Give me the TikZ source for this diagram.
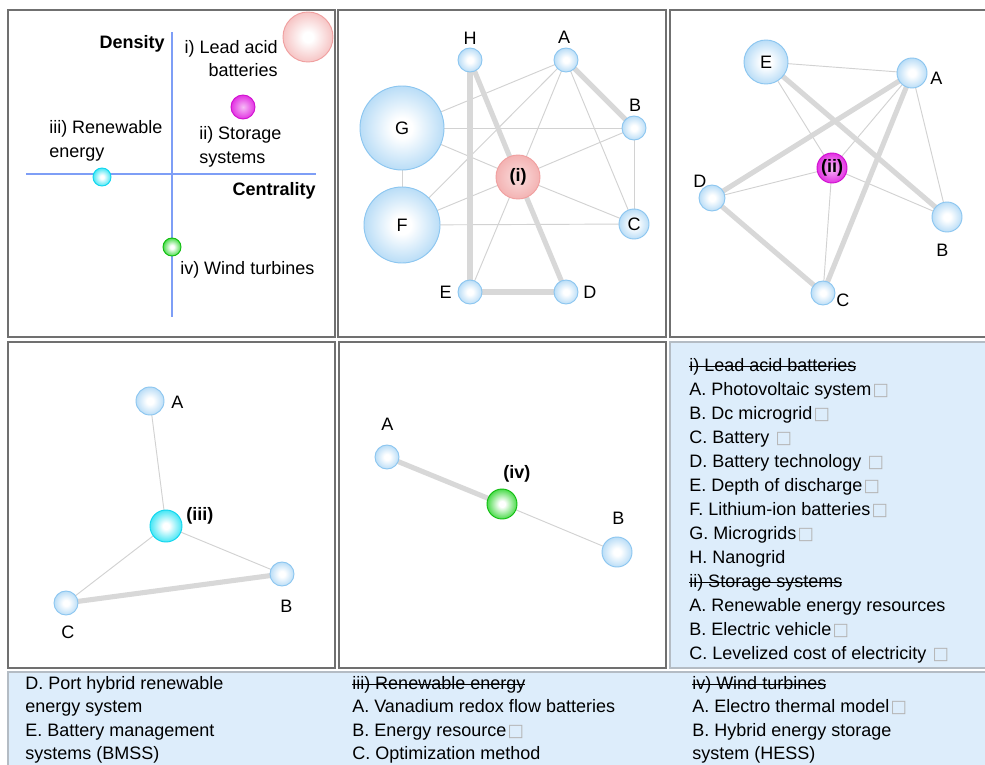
\documentclass[tikz,border=0pt]{standalone}
\usepackage{fontspec}
\setmainfont{Liberation Sans}
\newfontfamily\symfnt{DejaVu Sans}
\definecolor{nblue}{HTML}{ABD6F5}
\definecolor{nbluebd}{HTML}{8CC6F0}
\definecolor{npink}{HTML}{F2AAAA}
\definecolor{npinkbd}{HTML}{F0A0A0}
\definecolor{nmag}{HTML}{E020E0}
\definecolor{nmagbd}{HTML}{D010D0}
\definecolor{ncyan}{HTML}{18E0F2}
\definecolor{ncyanbd}{HTML}{10D6EE}
\definecolor{ngreen}{HTML}{1ED21E}
\definecolor{ngreenbd}{HTML}{10BE10}
\definecolor{edgec}{HTML}{D8D8D8}
\definecolor{thinc}{HTML}{D2D2D2}
\definecolor{axisc}{HTML}{7E9EF6}
\definecolor{framec}{HTML}{707070}
\definecolor{legfill}{HTML}{DDEDFB}
\definecolor{legframe}{HTML}{B4BCC4}
\definecolor{boxc}{HTML}{B4B4B4}
\pgfdeclareradialshading{shblue}{\pgfpoint{0bp}{0bp}}{color(0bp)=(white); color(6bp)=(white); color(29bp)=(nblue); color(50bp)=(nblue)}
\pgfdeclareradialshading{shpink}{\pgfpoint{0bp}{0bp}}{color(0bp)=(white); color(5bp)=(white); color(34bp)=(npink); color(50bp)=(npink)}
\pgfdeclareradialshading{shpinkb}{\pgfpoint{0bp}{0bp}}{color(0bp)=(npink!40!white); color(30bp)=(npink); color(50bp)=(npink)}
\pgfdeclareradialshading{shmag}{\pgfpoint{0bp}{0bp}}{color(0bp)=(nmag!30!white); color(28bp)=(nmag); color(50bp)=(nmag)}
\pgfdeclareradialshading{shcyan}{\pgfpoint{0bp}{0bp}}{color(0bp)=(white); color(5bp)=(white); color(30bp)=(ncyan); color(50bp)=(ncyan)}
\pgfdeclareradialshading{shgreen}{\pgfpoint{0bp}{0bp}}{color(0bp)=(white); color(5bp)=(white); color(30bp)=(ngreen); color(50bp)=(ngreen)}
\pgfdeclarelayer{bg}
\pgfdeclarelayer{edgelayer}
\pgfsetlayers{bg,edgelayer,main}
\newcommand\fs{\fontsize{13.5pt}{16pt}\selectfont}
\newcommand\bx{\kern1pt{\symfnt\fontsize{13pt}{13pt}\selectfont\color{boxc}□}}
\newsavebox\strkbox
\newcommand\strk[1]{\sbox\strkbox{#1}\rlap{\rule[0.22em]{\wd\strkbox}{0.6pt}}\usebox\strkbox}
\begin{document}
\begin{tikzpicture}[x=0.75pt,y=-0.75pt,
  every node/.append style={font=\fs, text=black},
  frame/.style={draw=framec, line width=1.3pt, fill=white},
  legbox/.style={draw=legframe, line width=1.3pt, fill=legfill},
  thickedge/.style={draw=edgec, line width=3.8pt},
  thinedge/.style={draw=thinc, line width=0.7pt},
  axisline/.style={draw=axisc, line width=1.6pt},
  bub/.style={circle, inner sep=0pt, minimum size=#1*1.5pt, line width=0.7pt},
  bnode/.style={bub=#1, shading=shblue, draw=nbluebd},
  pnode/.style={bub=#1, shading=shpink, draw=npinkbd},
  pbnode/.style={bub=#1, shading=shpinkb, draw=npinkbd},
  mnode/.style={bub=#1, shading=shmag, draw=nmagbd},
  cnode/.style={bub=#1, shading=shcyan, draw=ncyanbd},
  gnode/.style={bub=#1, shading=shgreen, draw=ngreenbd},
  lbl/.style={anchor=base west, inner sep=0pt},
  lble/.style={anchor=base east, inner sep=0pt},
  lblc/.style={anchor=base, inner sep=0pt}]
\useasboundingbox (0,0) rectangle (985,764);
\begin{pgfonlayer}{bg}
\fill[white] (0,0) rectangle (985,764);
\draw[frame] (8,10) rectangle (335,337);
\draw[frame] (338,10) rectangle (666,337);
\draw[frame] (670,10) rectangle (992,337);
\draw[frame] (8,342) rectangle (335,668);
\draw[frame] (339,342) rectangle (666,668);
\draw[legbox] (670,342) rectangle (992,668);
\draw[legbox] (8,672) rectangle (992,772);
\end{pgfonlayer}

% ---------- panel 1: strategic diagram ----------
\draw[axisline] (172,32) -- (172,317);
\draw[axisline] (26,174) -- (316,174);
\node[pnode=25] (q1) at (308,37) {};
\node[mnode=12] (q2) at (243,107) {};
\node[cnode=9] (q3) at (102,177) {};
\node[gnode=9] (q4) at (172,247) {};
\node[lble] (tden) at (165,48) {\bfseries Density};
\node[lble] (tcen) at (316,195) {\bfseries Centrality};
\node[lble] (t1a) at (278,53) {i) Lead acid};
\node[lble] (t1b) at (278,76) {batteries};
\node[lbl] (t2a) at (199,139) {ii) Storage};
\node[lbl] (t2b) at (199,163) {systems};
\node[lbl] (t3a) at (49,133) {iii) Renewable};
\node[lbl] (t3b) at (49,157) {energy};
\node[lbl] (t4) at (180,274) {iv) Wind turbines};

% ---------- panel 2: (i) ----------
\node[bnode=12] (aH) at (470,60) {};
\node[bnode=12] (aA) at (566,60) {};
\node[bnode=12] (aB) at (634,128) {};
\node[bnode=15] (aC) at (634,224) {C};
\node[bnode=12] (aD) at (566,292) {};
\node[bnode=12] (aE) at (470,292) {};
\node[bnode=42] (aG) at (402,128) {G};
\node[bnode=38] (aF) at (402,225) {F};
\node[pbnode=22] (aI) at (518,177) {\bfseries (i)};
\node[lblc] (laH) at (470,44) {H};
\node[lblc] (laA) at (564,43) {A};
\node[lblc] (laB) at (635,111) {B};
\node[lbl] (laD) at (583,298) {D};
\node[lble] (laE) at (452,298) {E};
\begin{pgfonlayer}{edgelayer}
\draw[thinedge] (aA.center) -- (aG.center);
\draw[thinedge] (aA.center) -- (aF.center);
\draw[thinedge] (aA.center) -- (aI.center);
\draw[thinedge] (aA.center) -- (aC.center);
\draw[thinedge] (aG.center) -- (aB.center);
\draw[thinedge] (aG.center) -- (aI.center);
\draw[thinedge] (aG.center) -- (aF.center);
\draw[thinedge] (aB.center) -- (aI.center);
\draw[thinedge] (aB.center) -- (aC.center);
\draw[thinedge] (aI.center) -- (aC.center);
\draw[thinedge] (aF.center) -- (aI.center);
\draw[thinedge] (aF.center) -- (aC.center);
\draw[thinedge] (aI.center) -- (aE.center);
\draw[thickedge] (aH.center) -- (aE.center);
\draw[thickedge] (aH.center) -- (aI.center);
\draw[thickedge] (aA.center) -- (aB.center);
\draw[thickedge] (aI.center) -- (aD.center);
\draw[thickedge] (aE.center) -- (aD.center);
\end{pgfonlayer}

% ---------- panel 3: (ii) ----------
\node[bnode=22] (bE) at (766,62) {E};
\node[bnode=15] (bA) at (912,73) {};
\node[mnode=15] (bI) at (832,168) {\bfseries (ii)};
\node[bnode=13] (bD) at (712,198) {};
\node[bnode=15] (bB) at (947,217) {};
\node[bnode=12] (bC) at (823,293) {};
\node[lbl] (lbA) at (930,84) {A};
\node[lbl] (lbD) at (693,187) {D};
\node[lbl] (lbB) at (936,256) {B};
\node[lbl] (lbC) at (836,306) {C};
\begin{pgfonlayer}{edgelayer}
\draw[thinedge] (bE.center) -- (bA.center);
\draw[thinedge] (bE.center) -- (bI.center);
\draw[thinedge] (bA.center) -- (bI.center);
\draw[thinedge] (bA.center) -- (bB.center);
\draw[thinedge] (bD.center) -- (bI.center);
\draw[thinedge] (bI.center) -- (bB.center);
\draw[thinedge] (bI.center) -- (bC.center);
\draw[thickedge] (bE.center) -- (bB.center);
\draw[thickedge] (bA.center) -- (bD.center);
\draw[thickedge] (bA.center) -- (bC.center);
\draw[thickedge] (bD.center) -- (bC.center);
\end{pgfonlayer}

% ---------- panel 4: (iii) ----------
\node[bnode=14] (cA) at (150,401) {};
\node[cnode=16] (cI) at (166,526) {};
\node[bnode=12] (cB) at (282,574) {};
\node[bnode=12] (cC) at (66,603) {};
\node[lbl] (lcA) at (171,408) {A};
\node[lbl] (lcI) at (186,520) {\bfseries (iii)};
\node[lbl] (lcB) at (280,612) {B};
\node[lbl] (lcC) at (61,638) {C};
\begin{pgfonlayer}{edgelayer}
\draw[thinedge] (cA.center) -- (cI.center);
\draw[thinedge] (cI.center) -- (cC.center);
\draw[thinedge] (cI.center) -- (cB.center);
\draw[thickedge] (cC.center) -- (cB.center);
\end{pgfonlayer}

% ---------- panel 5: (iv) ----------
\node[bnode=12] (dA) at (387,457) {};
\node[gnode=15] (dI) at (502,504) {};
\node[bnode=15] (dB) at (617,552) {};
\node[lbl] (ldA) at (381,430) {A};
\node[lbl] (ldI) at (503,478) {\bfseries (iv)};
\node[lbl] (ldB) at (612,524) {B};
\begin{pgfonlayer}{edgelayer}
\draw[thickedge] (dA.center) -- (dI.center);
\draw[thinedge] (dI.center) -- (dB.center);
\end{pgfonlayer}

% ---------- legend ----------
\foreach \t [count=\i from 0] in {
  {\strk{i) Lead acid batteries}},
  {A. Photovoltaic system\bx},
  {B. Dc microgrid\bx},
  {C. Battery \bx},
  {D. Battery technology \bx},
  {E. Depth of discharge\bx},
  {F. Lithium-ion batteries\bx},
  {G. Microgrids\bx},
  {H. Nanogrid},
  {\strk{ii) Storage systems}},
  {A. Renewable energy resources},
  {B. Electric vehicle\bx},
  {C. Levelized cost of electricity \bx}}
  \node[lbl] (leg\i) at (689,371+24*\i) {\t};
\foreach \t [count=\i from 0] in {
  {D. Port hybrid renewable},
  {energy system},
  {E. Battery management},
  {systems (BMSS)}}
  \node[lbl] (lx\i) at (25,689+23.5*\i) {\t};
\foreach \t [count=\i from 0] in {
  {\strk{iii) Renewable energy}},
  {A. Vanadium redox flow batteries},
  {B. Energy resource\bx},
  {C. Optimization method}}
  \node[lbl] (ly\i) at (352,689+23.5*\i) {\t};
\foreach \t [count=\i from 0] in {
  {\strk{iv) Wind turbines}},
  {A. Electro thermal model\bx},
  {B. Hybrid energy storage},
  {system (HESS)}}
  \node[lbl] (lz\i) at (692,689+23.5*\i) {\t};
\end{tikzpicture}
\end{document}
